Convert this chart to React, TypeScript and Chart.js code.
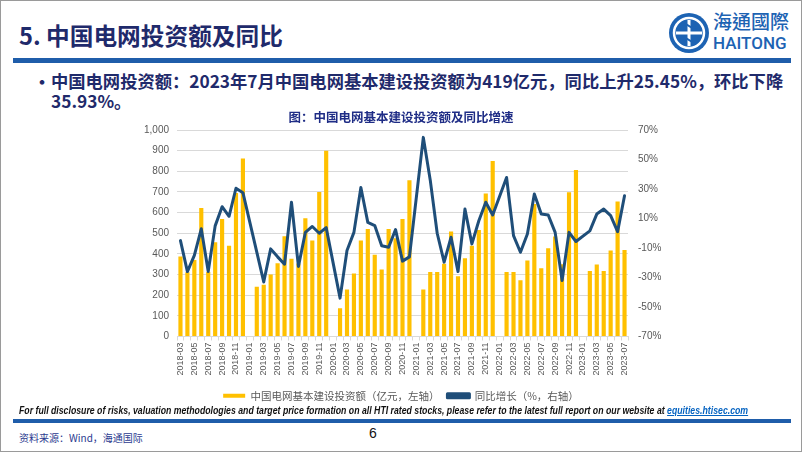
import React, { useEffect, useRef } from "react";
import { Chart, registerables } from "chart.js";

Chart.register(...registerables);

const CJK = '"Noto Sans CJK SC", "Noto Sans", sans-serif';
const LATIN = '"Liberation Sans", "Noto Sans", sans-serif';

const categories = [
  "2018-03", "2018-04", "2018-05", "2018-06", "2018-07", "2018-08", "2018-09", "2018-10", "2018-11", "2018-12",
  "2019-01", "2019-02", "2019-03", "2019-04", "2019-05", "2019-06", "2019-07", "2019-08", "2019-09", "2019-10", "2019-11", "2019-12",
  "2020-01", "2020-02", "2020-03", "2020-04", "2020-05", "2020-06", "2020-07", "2020-08", "2020-09", "2020-10", "2020-11", "2020-12",
  "2021-01", "2021-02", "2021-03", "2021-04", "2021-05", "2021-06", "2021-07", "2021-08", "2021-09", "2021-10", "2021-11", "2021-12",
  "2022-01", "2022-02", "2022-03", "2022-04", "2022-05", "2022-06", "2022-07", "2022-08", "2022-09", "2022-10", "2022-11", "2022-12",
  "2023-01", "2023-02", "2023-03", "2023-04", "2023-05", "2023-06", "2023-07",
];

// 中国电网基本建设投资额（亿元）
const investment: (number | null)[] = [
  388, 311, 370, 622, 312, 456, 569, 440, 695, 862,
  null, 241, 251, 300, 355, 486, 376, 353, 573, 465, 700, 899,
  null, 137, 228, 305, 465, 521, 396, 324, 521, 476, 569, 757,
  null, 228, 312, 312, 352, 508, 292, 379, 440, 516, 693, 850,
  null, 312, 312, 272, 368, 642, 331, 427, 484, 350, 698, 806,
  null, 317, 349, 317, 416, 654, 419,
];

// 同比增长（%）
const yoy: (number | null)[] = [
  -5, -26, -15, 3, -26, 5, 18, 11.5, 30.5, 27.5,
  null, null, -33, -10.6, -16, -21, 21, -22.5, 0.6, 4.6, 0, 3.8,
  null, -44, -11.7, 0.6, 31, 7.4, 5.2, -8.5, -9.5, 2.5, -18.9, -16,
  null, 65, 36, 0, -19.6, -2.7, -26, 16.4, -7.2, 8.5, 21, 12.4,
  null, 37.8, -1.6, -12.9, -0.5, 26.6, 13, 12.4, 0.6, -32, 0.6, -5.6,
  null, 1.6, 13, 16.4, 11.9, 1.1, 25.45,
];

const leftAxis = { min: 0, max: 1000, step: 100 };
const rightAxis = { min: -70, max: 70, step: 20 };

const chartTitle = "图：中国电网基本建设投资额及同比增速";
const barLabel = "中国电网基本建设投资额（亿元，左轴）";
const lineLabel = "同比增长（%，右轴）";

const GOLD = "#FFC000";
const NAVY = "#1F4E79";
const GRID = "#D9D9D9";
const TICK = "#595959";

export default function App() {
  const ref = useRef<HTMLCanvasElement>(null);

  useEffect(() => {
    document.body.style.margin = "0";
    const chart = new Chart(ref.current as HTMLCanvasElement, {
      type: "bar",
      data: {
        labels: categories,
        datasets: [
          {
            type: "bar",
            label: barLabel,
            data: investment,
            yAxisID: "y",
            backgroundColor: GOLD,
            borderWidth: 0,
            barPercentage: 0.6,
            categoryPercentage: 1,
            order: 2,
          } as any,
          {
            type: "line",
            label: lineLabel,
            data: yoy,
            yAxisID: "y1",
            borderColor: NAVY,
            backgroundColor: NAVY,
            borderWidth: 3,
            pointRadius: 0,
            spanGaps: true,
            tension: 0,
            borderJoinStyle: "round",
            borderCapStyle: "round",
            order: 1,
          } as any,
        ],
      },
      options: {
        animation: false,
        responsive: false,
        devicePixelRatio: 1,
        layout: { padding: { left: 0, right: 0, top: 0, bottom: 0 } },
        plugins: {
          tooltip: { enabled: false },
          title: {
            display: true,
            text: chartTitle,
            color: "#1F2D86",
            font: { family: CJK, size: 12.5, weight: "bold" },
            padding: { top: 3, bottom: 5 },
          },
          legend: {
            position: "bottom",
            labels: {
              color: TICK,
              font: { family: CJK, size: 10.5 },
              boxWidth: 22,
              boxHeight: 4,
              padding: 8,
              sort: (a: any, b: any) => a.datasetIndex - b.datasetIndex,
            },
          },
        },
        scales: {
          x: {
            grid: {
              display: true,
              drawOnChartArea: false,
              drawTicks: true,
              tickLength: 4,
              color: GRID,
              offset: true,
            },
            border: { display: true, color: GRID },
            ticks: {
              autoSkip: false,
              maxRotation: 90,
              minRotation: 90,
              padding: 2,
              color: TICK,
              font: { family: LATIN, size: 9 },
              callback: function (this: any, v: any, i: number) {
                return i % 2 === 0 ? this.getLabelForValue(v) : "";
              },
            },
            afterFit: (s: any) => {
              s.height = 46;
            },
          },
          y: {
            position: "left",
            min: leftAxis.min,
            max: leftAxis.max,
            ticks: {
              stepSize: leftAxis.step,
              padding: 8,
              color: TICK,
              font: { family: LATIN, size: 10 },
              callback: (v: any) => Number(v).toLocaleString("en-US"),
            },
            grid: { color: GRID, drawTicks: false },
            border: { display: false },
            afterFit: (s: any) => {
              s.width = 46;
            },
          },
          y1: {
            position: "right",
            min: rightAxis.min,
            max: rightAxis.max,
            ticks: {
              stepSize: rightAxis.step,
              padding: 10,
              color: TICK,
              font: { family: LATIN, size: 10 },
              callback: (v: any) => `${v}%`,
            },
            grid: { display: false, drawTicks: false },
            border: { display: false },
            afterFit: (s: any) => {
              s.width = 43;
            },
          },
        },
      } as any,
    });
    return () => chart.destroy();
  }, []);

  return (
    <div
      style={{
        position: "relative",
        width: 802,
        height: 452,
        boxSizing: "border-box",
        border: "1px solid #9a9a9a",
        background: "#fff",
        overflow: "hidden",
        fontFamily: CJK,
      }}
    >
      {/* Title */}
      <div
        style={{
          position: "absolute",
          left: 18,
          top: 21,
          fontSize: 23.7,
          lineHeight: "26px",
          fontWeight: 700,
          color: "#1F2A6B",
          whiteSpace: "nowrap",
        }}
      >
        5. 中国电网投资额及同比
      </div>

      {/* Logo */}
      <svg style={{ position: "absolute", left: 667, top: 11 }} width={42} height={42} viewBox="0 0 42 42">
        <circle cx={21} cy={21} r={20} fill="#1D63B3" />
        <circle cx={21} cy={21} r={15} fill="none" stroke="#fff" strokeWidth={2.5} />
        <path d="M8 21 H34 M21 8 V34" stroke="#fff" strokeWidth={3} />
        <path d="M11 14 Q16 10 21 14 Q26 18 31 14 M11 28 Q16 24 21 28 Q26 32 31 28" stroke="#1D63B3" strokeWidth={2} fill="none" />
      </svg>
      <div
        style={{
          position: "absolute",
          left: 712,
          top: 9,
          fontSize: 19,
          lineHeight: "22px",
          color: "#1D63B3",
          fontFamily: '"Noto Sans CJK TC", "Noto Sans CJK SC", sans-serif',
          fontWeight: 500,
          whiteSpace: "nowrap",
        }}
      >
        海通國際
      </div>
      <div
        style={{
          position: "absolute",
          left: 712,
          top: 32,
          fontSize: 17,
          lineHeight: "20px",
          color: "#1D63B3",
          fontFamily: '"Roboto", "Liberation Sans", sans-serif',
          fontWeight: 500,
          whiteSpace: "nowrap",
        }}
      >
        HAITONG
      </div>

      {/* Top blue bar */}
      <div style={{ position: "absolute", left: 12, top: 57, width: 778, height: 5, background: "#1F5DAA" }} />

      {/* Bullet */}
      <div style={{ position: "absolute", left: 30, top: 68, fontSize: 22, lineHeight: "22px", color: "#1F2A6B" }}>•</div>
      <div
        style={{
          position: "absolute",
          left: 50,
          top: 69,
          fontSize: 17.3,
          lineHeight: "22px",
          fontWeight: 700,
          color: "#1F2A6B",
          whiteSpace: "nowrap",
        }}
      >
        中国电网投资额：2023年7月中国电网基本建设投资额为419亿元，同比上升25.45%，环比下降
      </div>
      <div
        style={{
          position: "absolute",
          left: 50,
          top: 89,
          fontSize: 17.3,
          lineHeight: "22px",
          fontWeight: 700,
          color: "#1F2A6B",
          whiteSpace: "nowrap",
        }}
      >
        35.93%。
      </div>

      {/* Chart */}
      <canvas
        ref={ref}
        width={540}
        height={304}
        style={{ position: "absolute", left: 130, top: 106, width: 540, height: 304 }}
      />

      {/* Disclaimer */}
      <div
        style={{
          position: "absolute",
          left: 18,
          top: 403,
          fontSize: 10,
          lineHeight: "13px",
          fontWeight: 700,
          fontStyle: "italic",
          fontFamily: LATIN,
          color: "#111",
          whiteSpace: "nowrap",
          transform: "scaleX(0.873)",
          transformOrigin: "left top",
        }}
      >
        For full disclosure of risks, valuation methodologies and target price formation on all HTI rated stocks, please
        refer to the latest full report on our website at{" "}
        <span style={{ color: "#0563C1", textDecoration: "underline" }}>equities.htisec.com</span>
      </div>

      {/* Bottom blue bar */}
      <div style={{ position: "absolute", left: 12, top: 418, width: 778, height: 4, background: "#1F5DAA" }} />

      {/* Page number */}
      <div
        style={{
          position: "absolute",
          left: 368,
          top: 424,
          fontSize: 14,
          lineHeight: "16px",
          fontFamily: LATIN,
          color: "#111",
        }}
      >
        6
      </div>

      {/* Source */}
      <div
        style={{
          position: "absolute",
          left: 18,
          top: 430,
          fontSize: 10,
          lineHeight: "14px",
          color: "#2B3A8F",
          whiteSpace: "nowrap",
        }}
      >
        资料来源：Wind，海通国际
      </div>
    </div>
  );
}
